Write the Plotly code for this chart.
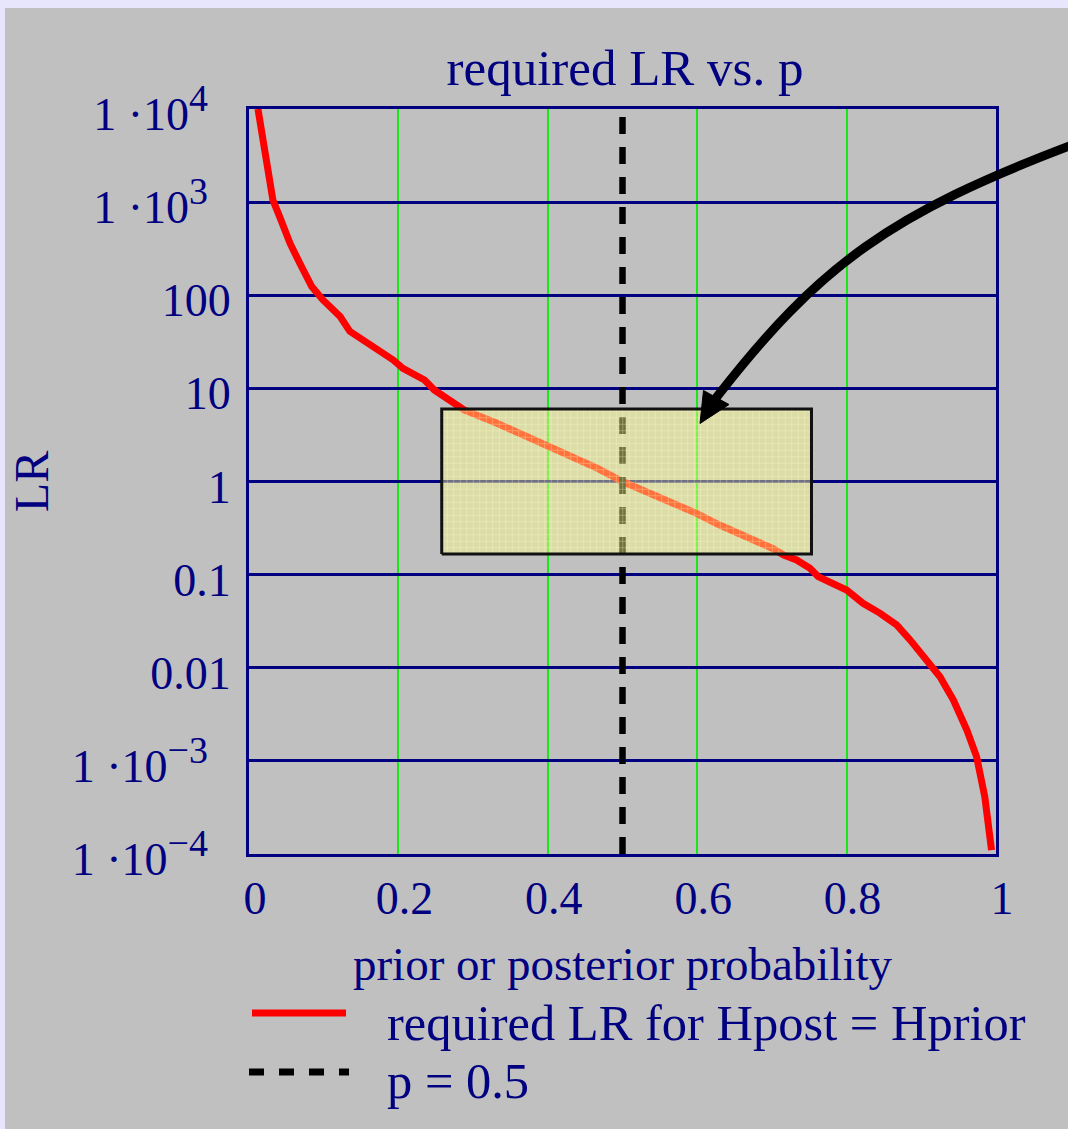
import plotly.graph_objects as go

# ---------------------------------------------------------------- data
# required likelihood ratio for the posterior to equal the prior
p_values = [0.012, 0.021, 0.026, 0.032, 0.041, 0.055, 0.068, 0.084, 0.099,
            0.122, 0.135, 0.153, 0.171, 0.193, 0.206, 0.235, 0.248, 0.257,
            0.288, 0.332, 0.367, 0.399, 0.434, 0.466, 0.500, 0.532, 0.563,
            0.599, 0.630, 0.666, 0.701, 0.716, 0.733, 0.751, 0.762, 0.800,
            0.822, 0.845, 0.867, 0.885, 0.907, 0.925, 0.943, 0.961, 0.974,
            0.985, 0.994]
lr_values = [10000, 3600, 2050, 1050, 700, 360, 221, 124, 89,
             59, 41, 33, 25.8, 20.2, 16.4, 12.3, 9.6, 8.5,
             5.86, 4.22, 3.16, 2.36, 1.77, 1.39, 1.0, 0.777, 0.633,
             0.455, 0.341, 0.255, 0.191, 0.162, 0.1435, 0.117, 0.095, 0.0684,
             0.0492, 0.0384, 0.0288, 0.0199, 0.0121, 0.0080, 0.0045, 0.00214, 0.00111,
             0.000412, 0.00011]

p_marker = 0.5                 # vertical reference line p = 0.5
lr_limits = [1e-4, 1e4]

band_p = [0.258, 0.753]        # highlighted window
band_lr = [0.1667, 6.0]

x_ticks = [0, 0.2, 0.4, 0.6, 0.8, 1]
x_tick_labels = ["0", "0.2", "0.4", "0.6", "0.8", "1"]
y_ticks_plain = [100, 10, 1, 0.1, 0.01]
y_tick_labels_plain = ["100", "10", "1", "0.1", "0.01"]
y_ticks_power = [1e4, 1e3, 1e-3, 1e-4]
y_tick_labels_power = [
    "1 ·10<sup><span style='font-size:38px'>4</span></sup>",
    "1 ·10<sup><span style='font-size:38px'>3</span></sup>",
    "1 ·10<sup><span style='font-size:38px'>−3</span></sup>",
    "1 ·10<sup><span style='font-size:38px'>−4</span></sup>",
]

title_text = "required LR vs. p"
x_title = "prior or posterior probability"
y_title = "LR"
curve_name = "required LR for Hpost = Hprior"
marker_name = "p = 0.5"

# ---------------------------------------------------------------- style
W, H = 1068, 1129
M_L, M_R, M_T, M_B = 249, 72, 109, 275
PLOT_W = W - M_L - M_R
PLOT_H = H - M_T - M_B
NAVY = "#000080"
GRAY = "#c0c0c0"
LAVENDER = "#e8e6fc"
GREEN = "#18e818"
SERIF = "Liberation Serif, Times New Roman, serif"


def fx(px):
    """page pixel column -> paper x"""
    return (px - M_L) / PLOT_W


def fy(py):
    """page pixel row -> paper y"""
    return (H - M_B - py) / PLOT_H


fig = go.Figure()

# curve and reference line
fig.add_trace(go.Scatter(
    x=p_values, y=lr_values, mode="lines",
    line=dict(color="#ff0000", width=7),
    hoverinfo="skip", showlegend=False))
fig.add_trace(go.Scatter(
    x=[p_marker, p_marker], y=lr_limits, mode="lines",
    line=dict(color="black", width=6.5, dash="17px,13px"),
    hoverinfo="skip", showlegend=False))

# translucent highlight window (drawn on the overlay axis, above the curves)
box_x = [band_p[0], band_p[1], band_p[1], band_p[0], band_p[0]]
box_y = [band_lr[0], band_lr[0], band_lr[1], band_lr[1], band_lr[0]]
fig.add_trace(go.Scatter(
    x=box_x, y=box_y, yaxis="y2", mode="lines", fill="toself",
    fillcolor="rgb(255,255,140)", line=dict(width=0), opacity=0.44,
    hoverinfo="skip", showlegend=False))
fig.add_trace(go.Scatter(
    x=box_x, y=box_y, yaxis="y2", mode="lines", fill="toself",
    fillcolor="rgba(0,0,0,0)", line=dict(width=0),
    fillpattern=dict(shape="+", fgcolor="rgb(255,255,190)", fgopacity=0.55,
                     size=6.5, solidity=0.16, fillmode="overlay"),
    hoverinfo="skip", showlegend=False))
fig.add_trace(go.Scatter(
    x=box_x, y=box_y, yaxis="y2", mode="lines",
    line=dict(color="#111111", width=3),
    hoverinfo="skip", showlegend=False))

tick_font = dict(family=SERIF, size=46, color=NAVY)

# curved call-out arrow (page pixel geometry)
a0, a1, a2, a3 = (1072, 145), (890.9, 213.6), (820.1, 264.0), (716, 398)
arrow_path = "M {},{} C {},{} {},{} {},{}".format(
    fx(a0[0]), fy(a0[1]), fx(a1[0]), fy(a1[1]),
    fx(a2[0]), fy(a2[1]), fx(a3[0]), fy(a3[1]))
head = [(700, 423.5), (703.5, 390.5), (729, 404.5)]
head_path = "M {},{} L {},{} L {},{} Z".format(
    fx(head[0][0]), fy(head[0][1]), fx(head[1][0]), fy(head[1][1]),
    fx(head[2][0]), fy(head[2][1]))

shapes = [
    # lavender rim along the top and left edges
    dict(type="rect", xref="paper", yref="paper", layer="below",
         x0=fx(-5), x1=fx(W + 5), y0=fy(8), y1=fy(-5),
         fillcolor=LAVENDER, line=dict(width=0)),
    dict(type="rect", xref="paper", yref="paper", layer="below",
         x0=fx(-5), x1=fx(5), y0=fy(H + 5), y1=fy(-5),
         fillcolor=LAVENDER, line=dict(width=0)),
    # arrow
    dict(type="path", xref="paper", yref="paper", layer="above",
         path=arrow_path, line=dict(color="black", width=9)),
    dict(type="path", xref="paper", yref="paper", layer="above",
         path=head_path, fillcolor="black", line=dict(color="black", width=1)),
    # legend samples
    dict(type="line", xref="paper", yref="paper",
         x0=fx(252), x1=fx(346), y0=fy(1013), y1=fy(1013),
         line=dict(color="#ff0000", width=7)),
    dict(type="line", xref="paper", yref="paper",
         x0=fx(249), x1=fx(349), y0=fy(1072), y1=fy(1072),
         line=dict(color="black", width=7, dash="15px,15px")),
]

annotations = [
    dict(text=curve_name, xref="paper", yref="paper", x=fx(385), y=fy(1023),
         xanchor="left", yanchor="middle", showarrow=False,
         font=dict(family=SERIF, size=50.5, color=NAVY)),
    dict(text=marker_name, xref="paper", yref="paper", x=fx(385), y=fy(1081),
         xanchor="left", yanchor="middle", showarrow=False,
         font=dict(family=SERIF, size=50.5, color=NAVY)),
]

fig.update_layout(
    width=W, height=H,
    margin=dict(l=M_L, r=M_R, t=M_T, b=M_B),
    paper_bgcolor=GRAY, plot_bgcolor=GRAY,
    title=dict(text=title_text, x=625 / W, xanchor="center",
               y=1 - 67 / H, yanchor="middle",
               font=dict(family=SERIF, size=51, color=NAVY)),
    xaxis=dict(range=[0, 1], tickmode="array", tickvals=x_ticks,
               ticktext=x_tick_labels, ticks="", showgrid=True,
               gridcolor=GREEN, gridwidth=1.5, zeroline=False,
               showline=True, linecolor=NAVY, linewidth=3, mirror=True,
               tickfont=tick_font, ticklabelstandoff=2, ticklabelshift=6,
               automargin=False,
               title=dict(text=x_title, standoff=24,
                          font=dict(family=SERIF, size=47, color=NAVY))),
    yaxis=dict(type="log", range=[-4, 4], tickmode="array",
               tickvals=y_ticks_plain, ticktext=y_tick_labels_plain,
               ticks="", showgrid=True, gridcolor=NAVY, gridwidth=3,
               zeroline=False, showline=True, linecolor=NAVY, linewidth=3,
               mirror=True, tickfont=tick_font, ticklabelstandoff=6,
               ticklabelshift=5, automargin=False,
               title=dict(text=y_title, standoff=87,
                          font=dict(family=SERIF, size=48, color=NAVY))),
    yaxis2=dict(type="log", range=[-4, 4], overlaying="y", side="left",
                tickmode="array", tickvals=y_ticks_power,
                ticktext=y_tick_labels_power, ticks="", showgrid=True,
                gridcolor=NAVY, gridwidth=3,
                zeroline=False, showline=False, tickfont=tick_font,
                ticklabelstandoff=40, ticklabelshift=5, automargin=False),
    shapes=shapes,
    annotations=annotations,
    showlegend=False,
)

fig.write_html("out.html")
